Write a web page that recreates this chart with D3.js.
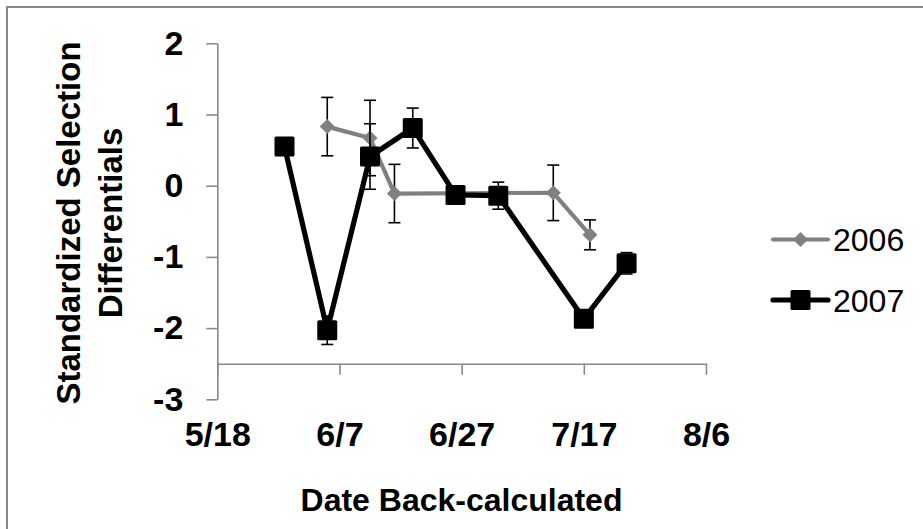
<!DOCTYPE html>
<html>
<head>
<meta charset="utf-8">
<script src="https://cdn.jsdelivr.net/npm/d3@7"></script>
<style>
  html, body { margin: 0; padding: 0; background: #fff; }
  svg { display: block; font-family: "Liberation Sans", Arial, sans-serif; }
</style>
</head>
<body>
<svg id="chart" width="923" height="529"></svg>
<script>
// data
const year = "2007";
const xTickLabels = ["5/18", "6/7", "6/27", "7/17", "8/6"];
const yTickValues = [2, 1, 0, -1, -2, -3];

const dates2006 = ["6/5", "6/12", "6/16", "7/12", "7/18"];
const values2006 = [0.83, 0.67, -0.11, -0.10, -0.69];
const errors2006 = [0.41, 0.53, 0.41, 0.39, 0.21];

const dates2007 = ["5/29", "6/5", "6/12", "6/19", "6/26", "7/3", "7/17", "7/24"];
const values2007 = [0.55, -2.03, 0.41, 0.81, -0.13, -0.14, -1.87, -1.09];
const errors2007 = [0.08, 0.2, 0.46, 0.28, 0.04, 0.19, 0.04, 0.15];

const seriesNames = ["2006", "2007"];

const parseDate = d3.timeParse("%m/%d/%Y");
const toDate = s => parseDate(s + "/" + year);

const svg = d3.select("#chart");
const axisColor = "#898989";
const grey = "#808080";

// outer chart frame (runs off the picture at right and bottom)
svg.append("rect")
    .attr("x", 7).attr("y", 7)
    .attr("width", 960).attr("height", 560)
    .attr("fill", "none")
    .attr("stroke", axisColor)
    .attr("stroke-width", 2);

const x = d3.scaleTime()
    .domain([toDate(xTickLabels[0]), toDate(xTickLabels[xTickLabels.length - 1])])
    .range([217.3, 706]);

const y = d3.scaleLinear()
    .domain([-3, 2])
    .range([399.3, 43.3]);

const xCross = -2.5; // horizontal axis crosses here

// y axis
const yAxis = svg.append("g")
    .attr("transform", "translate(" + x.range()[0] + ",0)")
    .call(d3.axisLeft(y)
        .tickValues(yTickValues)
        .tickFormat(d3.format("d"))
        .tickSize(11)
        .tickSizeOuter(0)
        .tickPadding(23));
yAxis.selectAll("path, line").attr("stroke", axisColor).attr("stroke-width", 1.6);
yAxis.selectAll("text")
    .attr("font-size", 34).attr("font-weight", "bold")
    .attr("fill", "#000")
    .attr("font-family", "Liberation Sans, Arial, sans-serif")
    .text(d => d < 0 ? "-" + Math.abs(d) : d);

// x axis
const xAxis = svg.append("g")
    .attr("transform", "translate(0," + y(xCross) + ")")
    .call(d3.axisBottom(x)
        .tickValues(xTickLabels.map(toDate))
        .tickFormat(d3.timeFormat("%-m/%-d"))
        .tickSize(11)
        .tickSizeOuter(0)
        .tickPadding(47.5));
xAxis.selectAll("path, line").attr("stroke", axisColor).attr("stroke-width", 1.6);
xAxis.selectAll("text")
    .attr("font-size", 34).attr("font-weight", "bold")
    .attr("fill", "#000")
    .attr("font-family", "Liberation Sans, Arial, sans-serif");

// axis titles
svg.append("text")
    .attr("x", 461.5).attr("y", 511)
    .attr("text-anchor", "middle")
    .attr("font-size", 32).attr("font-weight", "bold")
    .text("Date Back-calculated");

const yTitle = svg.append("text")
    .attr("transform", "translate(80,223) rotate(-90)")
    .attr("text-anchor", "middle")
    .attr("font-size", 33).attr("font-weight", "bold");
yTitle.append("tspan").attr("x", 0).attr("y", 0).text("Standardized Selection");
yTitle.append("tspan").attr("x", 0).attr("y", 42).text("Differentials");

// helpers
function makeRows(dates, values, errors) {
    return dates.map((d, i) => ({ date: toDate(d), value: values[i], err: errors[i] }));
}
const rows2006 = makeRows(dates2006, values2006, errors2006);
const rows2007 = makeRows(dates2007, values2007, errors2007);

const line = d3.line()
    .x(d => x(d.date))
    .y(d => y(d.value));

function diamond(r) {
    return "M0," + (-r) + "L" + r + ",0L0," + r + "L" + (-r) + ",0Z";
}

function drawErrors(rows) {
    const g = svg.append("g").attr("stroke", "#000").attr("stroke-width", 1.6);
    rows.forEach(d => {
        const cx = x(d.date);
        const top = y(d.value + d.err), bot = y(d.value - d.err);
        g.append("line").attr("x1", cx).attr("x2", cx).attr("y1", top).attr("y2", bot);
        g.append("line").attr("x1", cx - 6).attr("x2", cx + 6).attr("y1", top).attr("y2", top);
        g.append("line").attr("x1", cx - 6).attr("x2", cx + 6).attr("y1", bot).attr("y2", bot);
    });
}

// 2006 series
svg.append("path")
    .datum(rows2006)
    .attr("d", line)
    .attr("fill", "none")
    .attr("stroke", grey)
    .attr("stroke-width", 4.2)
    .attr("stroke-linejoin", "round");
drawErrors(rows2006);
svg.append("g").selectAll("path")
    .data(rows2006)
    .join("path")
    .attr("transform", d => "translate(" + x(d.date) + "," + y(d.value) + ")")
    .attr("d", diamond(7.5))
    .attr("fill", grey);

// 2007 series
svg.append("path")
    .datum(rows2007)
    .attr("d", line)
    .attr("fill", "none")
    .attr("stroke", "#000")
    .attr("stroke-width", 5.2)
    .attr("stroke-linejoin", "round");
drawErrors(rows2007);
svg.append("g").selectAll("rect")
    .data(rows2007)
    .join("rect")
    .attr("x", d => x(d.date) - 10)
    .attr("y", d => y(d.value) - 10)
    .attr("width", 20).attr("height", 20)
    .attr("rx", 1.5)
    .attr("fill", "#000");

// legend
const legend = svg.append("g");
const legendY = [239.5, 300];
seriesNames.forEach((name, i) => {
    const g = legend.append("g").attr("transform", "translate(0," + legendY[i] + ")");
    g.append("line")
        .attr("x1", 773).attr("x2", 828)
        .attr("stroke", i === 0 ? grey : "#000")
        .attr("stroke-width", i === 0 ? 4.2 : 5.2)
        .attr("stroke-linecap", "round");
    if (i === 0) {
        g.append("path").attr("transform", "translate(800.5,0)").attr("d", diamond(7.5)).attr("fill", grey);
    } else {
        g.append("rect").attr("x", 790.5).attr("y", -10).attr("width", 20).attr("height", 20)
            .attr("rx", 1.5).attr("fill", "#000");
    }
    g.append("text")
        .attr("x", 833).attr("y", 11.5)
        .attr("font-size", 32)
        .text(name);
});
</script>
</body>
</html>
